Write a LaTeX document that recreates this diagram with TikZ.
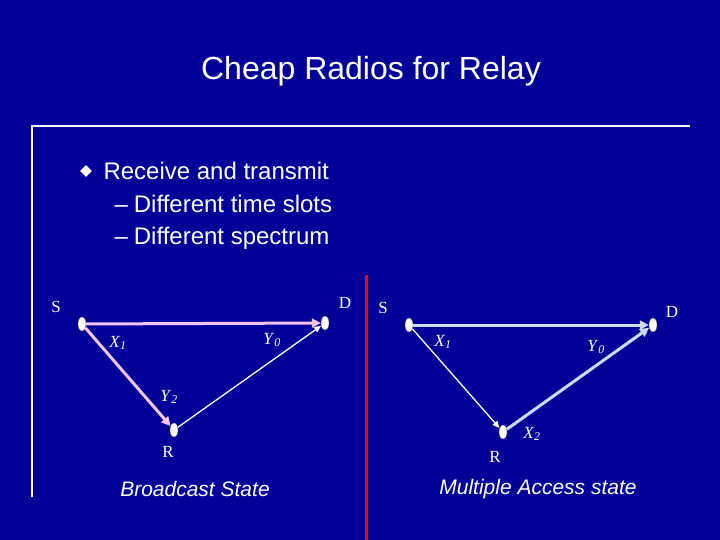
\documentclass[tikz,border=0pt]{standalone}
\usepackage{fontspec}
\setmainfont{Liberation Serif}
\setsansfont{Liberation Sans}
\usetikzlibrary{arrows.meta,shapes.geometric}
\definecolor{bg}{HTML}{000099}
\definecolor{pinkc}{HTML}{F2C4F2}
\definecolor{bluec}{HTML}{C8DCF8}
\newcommand{\sv}[2]{\textit{#1}\textsubscript{\textit{#2}}}
\tikzset{x=1pt,y=-1pt,
 radio/.style={ellipse,fill=white,draw=black!60,line width=0.4pt,minimum width=8pt,minimum height=14pt,inner sep=0pt},
 lab/.style={text=white,font=\fontsize{17}{17}\selectfont},
 thick1/.style={line width=3pt,-{Triangle[length=9pt,width=9pt]}},
 thin1/.style={white,line width=1.3pt,-{Triangle[length=7pt,width=6pt]}},
 captxt/.style={text=white,font=\sffamily\itshape\fontsize{21}{21}\selectfont},
 bultxt/.style={anchor=west,text=white,font=\sffamily\fontsize{24}{24}\selectfont}}
\begin{document}
\begin{tikzpicture}
\fill[bg] (0,0) rectangle (720,540);
\useasboundingbox (0,0) rectangle (720,540);
\node[text=white,font=\sffamily\fontsize{32}{32}\selectfont] (title) at (371,71) {Cheap Radios for Relay};
\draw[white,line width=1.5pt] (32,497) |- (690,126);
\node[fill=white,diamond,inner sep=0pt,minimum size=12pt] (bul) at (86,171) {};
\node[bultxt] (b1) at (100,171) {Receive and transmit};
\node[bultxt] (b2) at (111,204) {–\hspace{6pt}Different time slots};
\node[bultxt] (b3) at (111,238) {–\hspace{6pt}Different spectrum};
\draw[red,line width=3pt] (366,275) -- (366,540);
% left
\node[radio] (S1) at (82,324) {};
\node[radio] (D1) at (325,323) {};
\node[radio] (R1) at (174,430) {};
\node[lab] (ls1) at (56,307) {S};
\node[lab] (ld1) at (345,303) {D};
\node[lab] (lr1) at (168,452) {R};
\node[lab] (x11) at (118,343) {\sv{X}{1}};
\node[lab] (y01) at (272,340) {\sv{Y}{0}};
\node[lab] (y21) at (169,397) {\sv{Y}{2}};
\draw[pinkc,thick1] (S1) -- (D1);
\draw[pinkc,thick1] (S1) -- (R1);
\draw[thin1] (R1) -- (D1);
\node[captxt] (c1) at (195,489) {Broadcast State};
% right
\node[radio] (S2) at (409,325) {};
\node[radio] (D2) at (653,325) {};
\node[radio] (R2) at (503,432) {};
\node[lab] (ls2) at (383,308) {S};
\node[lab] (ld2) at (672,312) {D};
\node[lab] (lr2) at (495,457) {R};
\node[lab] (x12) at (443,342) {\sv{X}{1}};
\node[lab] (y02) at (596,347) {\sv{Y}{0}};
\node[lab] (x22) at (532,434) {\sv{X}{2}};
\draw[bluec,thick1] (S2) -- (D2);
\draw[bluec,thick1] (R2) -- (D2);
\draw[thin1] (S2) -- (R2);
\node[captxt] (c2) at (538,489) {Multiple Access state};
\end{tikzpicture}
\end{document}
